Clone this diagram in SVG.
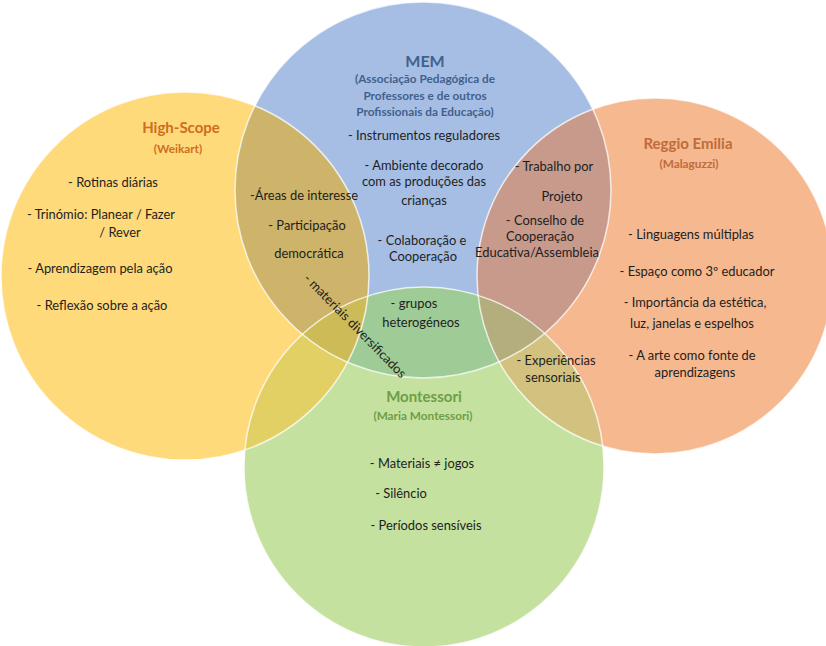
<svg xmlns="http://www.w3.org/2000/svg" width="826" height="646" viewBox="0 0 826 646">
<style>
text{font-family:Lato,"Open Sans","Liberation Sans",sans-serif;text-anchor:middle;}
.b{font-size:12.9px;fill:#1e1e1e;}
.t{font-weight:bold;font-size:15px;}
.s{font-weight:bold;font-size:11.8px;}
.mem{fill:#41618C;}
.hs{fill:#CF6D1F;}
.re{fill:#BE6C3A;}
.mo{fill:#6E9E45;}
.edge{fill:none;stroke:#fff;stroke-opacity:.75;stroke-width:1.5;}
</style>
<defs>
<clipPath id="cY"><circle cx="185" cy="276" r="184"/></clipPath>
<clipPath id="cB"><circle cx="423" cy="190" r="188"/></clipPath>
<clipPath id="cO"><circle cx="655" cy="276" r="178"/></clipPath>
<clipPath id="cG"><circle cx="424" cy="467" r="180"/></clipPath>
</defs>
<rect width="826" height="646" fill="#fff"/>
<g id="node-highscope"><circle cx="185" cy="276" r="184" fill="#FFDA7B"/></g>
<g id="node-mem"><circle cx="423" cy="190" r="188" fill="#A6BEE4"/></g>
<g id="node-reggio"><circle cx="655" cy="276" r="178" fill="#F6B88E"/></g>
<g id="node-montessori"><circle cx="424" cy="467" r="180" fill="#C5E1A0"/></g>
<g id="overlaps">
<g clip-path="url(#cY)"><circle cx="423" cy="190" r="188" fill="#CDB46A"/></g>
<g clip-path="url(#cB)"><circle cx="655" cy="276" r="178" fill="#C79A8B"/></g>
<g clip-path="url(#cB)"><circle cx="424" cy="467" r="180" fill="#9ECB96"/></g>
<g clip-path="url(#cY)"><circle cx="424" cy="467" r="180" fill="#E3D064"/></g>
<g clip-path="url(#cO)"><circle cx="424" cy="467" r="180" fill="#D3C27F"/></g>
<g clip-path="url(#cY)"><g clip-path="url(#cB)"><circle cx="424" cy="467" r="180" fill="#CDBB58"/></g></g>
<g clip-path="url(#cO)"><g clip-path="url(#cB)"><circle cx="424" cy="467" r="180" fill="#B4AE7E"/></g></g>
</g>
<g id="edges">
<circle class="edge" cx="185" cy="276" r="184"/>
<circle class="edge" cx="423" cy="190" r="188"/>
<circle class="edge" cx="655" cy="276" r="178"/>
<circle class="edge" cx="424" cy="467" r="180"/>
</g>
<g id="label-mem">
<text class="t mem" x="425" y="67" style="font-size:16px">MEM</text>
<text class="s mem" x="425" y="83">(Associação Pedagógica de</text>
<text class="s mem" x="425" y="100">Professores e de outros</text>
<text class="s mem" x="425" y="116">Profissionais da Educação)</text>
<text class="b" x="424" y="140">- Instrumentos reguladores</text>
<text class="b" x="424" y="170">- Ambiente decorado</text>
<text class="b" x="424" y="186">com as produções das</text>
<text class="b" x="424" y="205">crianças</text>
<text class="b" x="422" y="245">- Colaboração e</text>
<text class="b" x="423" y="261">Cooperação</text>
</g>
<g id="label-highscope">
<text class="t hs" x="181" y="133">High-Scope</text>
<text class="s hs" x="178" y="153">(Weikart)</text>
<text class="b" x="113" y="187">- Rotinas diárias</text>
<text class="b" x="101" y="219">- Trinómio: Planear / Fazer</text>
<text class="b" x="120" y="237">/ Rever</text>
<text class="b" x="100" y="273">- Aprendizagem pela ação</text>
<text class="b" x="102" y="310">- Reflexão sobre a ação</text>
</g>
<g id="label-reggio">
<text class="t re" x="688" y="149">Reggio Emilia</text>
<text class="s re" x="689" y="168">(Malaguzzi)</text>
<text class="b" x="691" y="239">- Linguagens múltiplas</text>
<text class="b" x="697" y="276">- Espaço como 3º educador</text>
<text class="b" x="695" y="307">- Importância da estética,</text>
<text class="b" x="692" y="328">luz, janelas e espelhos</text>
<text class="b" x="692" y="360">- A arte como fonte de</text>
<text class="b" x="695" y="377">aprendizagens</text>
</g>
<g id="label-montessori">
<text class="t mo" x="424" y="402">Montessori</text>
<text class="s mo" x="423" y="420">(Maria Montessori)</text>
<text class="b" x="422" y="468">- Materiais ≠ jogos</text>
<text class="b" x="401" y="498">- Silêncio</text>
<text class="b" x="426" y="530">- Períodos sensíveis</text>
</g>
<g id="label-overlaps">
<text class="b" x="304" y="200">-Áreas de interesse</text>
<text class="b" x="307" y="230">- Participação</text>
<text class="b" x="309" y="258">democrática</text>
<text class="b" x="352" y="329" transform="rotate(45.5 352 329)">- materiais diversificados</text>
<text class="b" x="414" y="308">- grupos</text>
<text class="b" x="421" y="327">heterogéneos</text>
<text class="b" x="554" y="171">- Trabalho por</text>
<text class="b" x="562" y="201">Projeto</text>
<text class="b" x="545" y="225">- Conselho de</text>
<text class="b" x="540" y="241">Cooperação</text>
<text class="b" x="537" y="257">Educativa/Assembleia</text>
<text class="b" x="556" y="365">- Experiências</text>
<text class="b" x="553" y="382">sensoriais</text>
</g>
</svg>
